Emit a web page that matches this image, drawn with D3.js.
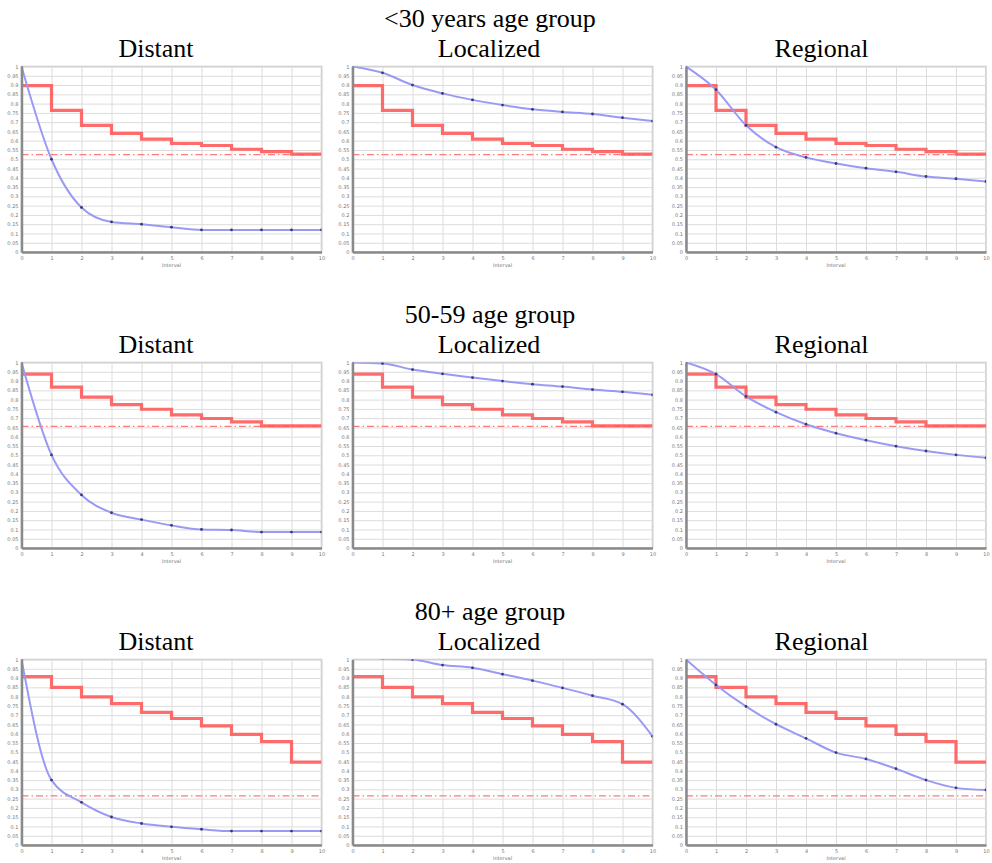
<!DOCTYPE html>
<html>
<head>
<meta charset="utf-8">
<script src="https://cdn.jsdelivr.net/npm/d3@7"></script>
<style>
  body { margin: 0; background: #fff; }
  .title { font-family: "Liberation Serif", "Times New Roman", serif; font-size: 26px; fill: #000; }
  .axis text { font-family: "DejaVu Sans", sans-serif; font-size: 5px; fill: #777; }
  .grid line { stroke: #dcdcdc; stroke-width: 1; }
  .grid path { stroke: none; }
</style>
</head>
<body>
<div id="chart"></div>
<script>
var rowTitles = ['<30 years age group', '50-59 age group', '80+ age group'];
var stageNames = ['Distant', 'Localized', 'Regional'];
var years = [0, 1, 2, 3, 4, 5, 6, 7, 8, 9, 10];
var yTicks = [0, 0.05, 0.1, 0.15, 0.2, 0.25, 0.3, 0.35, 0.4, 0.45, 0.5,
              0.55, 0.6, 0.65, 0.7, 0.75, 0.8, 0.85, 0.9, 0.95, 1];

// expected survival, one value per interval (red steps)
var expected30 = [0.897, 0.764, 0.683, 0.640, 0.609, 0.585, 0.574, 0.554, 0.541, 0.528];
var expected5059 = [0.937, 0.867, 0.813, 0.773, 0.748, 0.718, 0.698, 0.680, 0.658, 0.658];
var expected80 = [0.908, 0.850, 0.798, 0.762, 0.715, 0.682, 0.642, 0.596, 0.558, 0.447];
// dash-dot reference line
var limits = [0.525, 0.656, 0.265];

// relative survival (blue), years 0..10
var distant30 = [1.0, 0.50, 0.24, 0.162, 0.15, 0.134, 0.119, 0.119, 0.119, 0.119, 0.119];
var localized30 = [1.0, 0.966, 0.90, 0.855, 0.82, 0.792, 0.769, 0.755, 0.744, 0.724, 0.706];
var regional30 = [1.0, 0.875, 0.683, 0.565, 0.51, 0.477, 0.452, 0.432, 0.407, 0.395, 0.38];
var distant5059 = [1.0, 0.502, 0.286, 0.19, 0.153, 0.122, 0.10, 0.097, 0.086, 0.086, 0.086];
var localized5059 = [1.0, 0.995, 0.962, 0.939, 0.919, 0.90, 0.883, 0.87, 0.854, 0.842, 0.826];
var regional5059 = [1.0, 0.937, 0.817, 0.732, 0.667, 0.619, 0.581, 0.549, 0.523, 0.502, 0.486];
var distant80 = [1.0, 0.35, 0.23, 0.151, 0.116, 0.098, 0.085, 0.075, 0.075, 0.075, 0.075];
var localized80 = [1.02, 1.006, 1.0, 0.97, 0.955, 0.921, 0.886, 0.847, 0.805, 0.759, 0.586];
var regional80 = [1.0, 0.863, 0.747, 0.651, 0.575, 0.498, 0.464, 0.411, 0.35, 0.308, 0.297];

var rows = [
    {title: rowTitles[0], expected: expected30, limit: limits[0], series: [distant30, localized30, regional30]},
    {title: rowTitles[1], expected: expected5059, limit: limits[1], series: [distant5059, localized5059, regional5059]},
    {title: rowTitles[2], expected: expected80, limit: limits[2], series: [distant80, localized80, regional80]}
];

var width = 992, height = 863;
var plotW = 300, plotH = 185.5;
var colLeft = [21.5, 352.5, 686];
var colCenter = [156, 489, 821.5];
var rowTop = [66.5, 362.5, 659.5];

var svg = d3.select('#chart')
    .append('svg')
    .attr('width', width)
    .attr('height', height);

var x = d3.scaleLinear().domain([0, 10]).range([0, plotW]);
var y = d3.scaleLinear().domain([0, 1]).range([plotH, 0]);

var stepLine = d3.line()
    .x(function(d) { return x(d[0]); })
    .y(function(d) { return y(d[1]); })
    .curve(d3.curveStepAfter);

var survLine = d3.line()
    .x(function(d, i) { return x(years[i]); })
    .y(function(d) { return y(d); })
    .curve(d3.curveMonotoneX);

rows.forEach(function(row, r) {
    svg.append('text')
        .attr('class', 'title')
        .attr('x', 490)
        .attr('y', rowTop[r] - 40)
        .attr('text-anchor', 'middle')
        .text(row.title);

    stageNames.forEach(function(stage, c) {
        svg.append('text')
            .attr('class', 'title')
            .attr('x', colCenter[c])
            .attr('y', rowTop[r] - 10)
            .attr('text-anchor', 'middle')
            .text(stage);

        drawPanel(row, row.series[c], r, c);
    });
});

function drawPanel(row, surv, r, c) {
    var g = svg.append('g')
        .attr('transform', `translate(${colLeft[c]},${rowTop[r]})`);

    var clipId = 'clip-' + r + '-' + c;
    g.append('clipPath').attr('id', clipId)
        .append('rect')
        .attr('x', 0).attr('y', 0)
        .attr('width', plotW).attr('height', plotH);

    // frame
    g.append('rect')
        .attr('width', plotW).attr('height', plotH)
        .attr('fill', '#fff')
        .attr('stroke', '#c8c8c8')
        .attr('stroke-width', 1.5);

    // grid
    g.append('g')
        .attr('class', 'grid')
        .call(d3.axisLeft(y).tickValues(yTicks).tickSize(-plotW).tickFormat(''));
    g.append('g')
        .attr('class', 'grid')
        .attr('transform', `translate(0,${plotH})`)
        .call(d3.axisBottom(x).tickValues(years).tickSize(-plotH).tickFormat(''));

    var inner = g.append('g').attr('clip-path', `url(#${clipId})`);

    inner.append('line')
        .attr('x1', 0).attr('x2', plotW)
        .attr('y1', y(row.limit)).attr('y2', y(row.limit))
        .attr('stroke', '#ff7a7a')
        .attr('stroke-width', 1.2)
        .attr('stroke-dasharray', '7,3,1.5,3');

    var steps = row.expected.map(function(v, i) { return [i, v]; });
    steps.push([10, row.expected[row.expected.length - 1]]);

    inner.append('path')
        .datum(steps)
        .attr('d', stepLine)
        .attr('fill', 'none')
        .attr('stroke', '#ff5252')
        .attr('stroke-opacity', 0.85)
        .attr('stroke-width', 3.2);

    inner.append('path')
        .datum(surv)
        .attr('d', survLine)
        .attr('fill', 'none')
        .attr('stroke', '#9a9af4')
        .attr('stroke-width', 2);

    inner.selectAll('.dot')
        .data(surv).enter()
        .append('circle')
        .attr('class', 'dot')
        .attr('cx', function(d, i) { return x(years[i]); })
        .attr('cy', function(d) { return y(d); })
        .attr('r', 1.4)
        .attr('fill', '#3a3a6e');

    // axes
    var yAxis = g.append('g')
        .attr('class', 'axis')
        .call(d3.axisLeft(y).tickValues(yTicks).tickSize(0).tickPadding(3)
            .tickFormat(function(d) { return +d.toFixed(2); }));
    var xAxis = g.append('g')
        .attr('class', 'axis')
        .attr('transform', `translate(0,${plotH})`)
        .call(d3.axisBottom(x).tickValues(years).tickSize(0).tickPadding(4));

    [yAxis, xAxis].forEach(function(a) {
        a.select('.domain')
            .attr('stroke', '#8a8a8a')
            .attr('stroke-width', 2.5);
    });

    g.append('text')
        .attr('x', plotW / 2)
        .attr('y', plotH + 15)
        .attr('text-anchor', 'middle')
        .style('font-family', 'DejaVu Sans, sans-serif')
        .style('font-size', '5px')
        .style('fill', '#777')
        .text('Interval');
}
</script>
</body>
</html>
